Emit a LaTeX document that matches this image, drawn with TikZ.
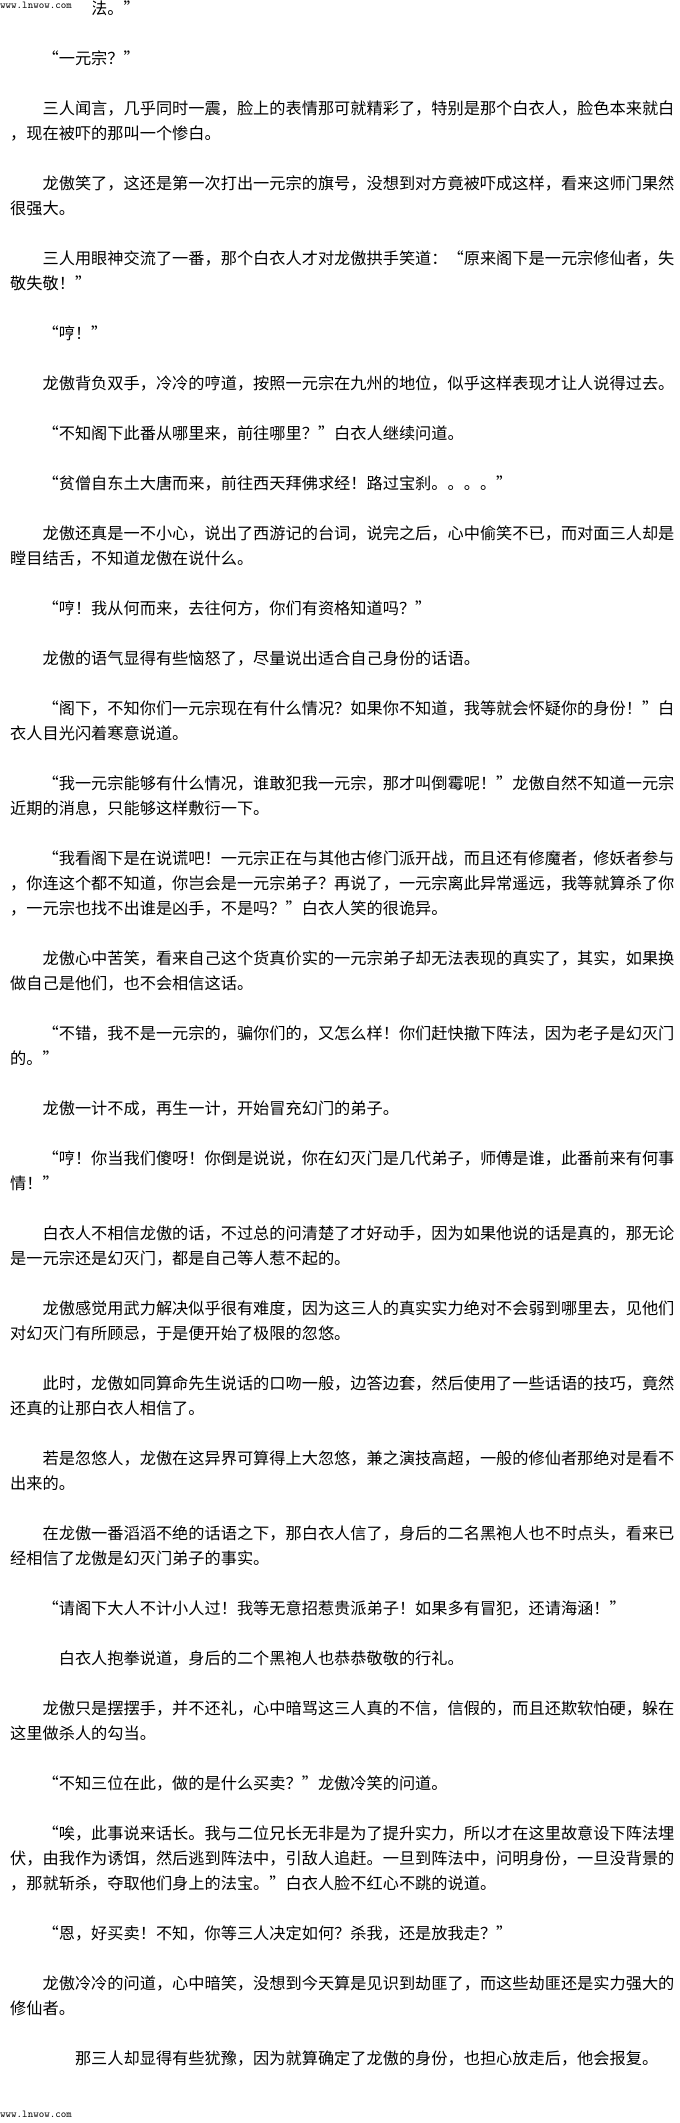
\documentclass[tikz,border=0pt]{standalone}
\usepackage{fontspec}
\newfontfamily\cjk{Noto Sans CJK SC}
\usepackage{tikz}
\newlength\cw
\setlength\cw{16.2pt}
\newcommand\qo{\makebox[\cw][r]{“}}
\newcommand\qc{\makebox[\cw][l]{”}}
\tikzset{
  txt/.style={anchor=base west, inner sep=0pt, yshift=-6pt, font=\cjk\fontsize{16.2}{25}\selectfont},
  wm/.style={anchor=west, inner sep=0pt, font=\ttfamily\fontsize{10.5}{12}\selectfont}
}

\begin{document}
\begin{tikzpicture}[x=1pt, y=-1pt]
        % Page
        \fill [white] (0, 0) rectangle (680, 2123);
        % Top line
        \node [txt] (p1a) at (91, 8) {法。\qc};
        \fill [white] (0, 0) rectangle (93, 11);
        \node [wm] (wtop) at (0, 5) {www.lnwow.com};
        % Paragraph 2
        \node [txt] (p2a) at (42.4, 58) {\qo 一元宗？\qc};
        % Paragraph 3
        \node [txt] (p3a) at (42.4, 108) {三人闻言，几乎同时一震，脸上的表情那可就精彩了，特别是那个白衣人，脸色本来就白};
        \node [txt] (p3b) at (10, 133) {，现在被吓的那叫一个惨白。};
        % Paragraph 4
        \node [txt] (p4a) at (42.4, 183) {龙傲笑了，这还是第一次打出一元宗的旗号，没想到对方竟被吓成这样，看来这师门果然};
        \node [txt] (p4b) at (10, 208) {很强大。};
        % Paragraph 5
        \node [txt] (p5a) at (42.4, 258) {三人用眼神交流了一番，那个白衣人才对龙傲拱手笑道：\qo 原来阁下是一元宗修仙者，失};
        \node [txt] (p5b) at (10, 283) {敬失敬！\qc};
        % Paragraph 6
        \node [txt] (p6a) at (42.4, 333) {\qo 哼！\qc};
        % Paragraph 7
        \node [txt] (p7a) at (42.4, 383) {龙傲背负双手，冷冷的哼道，按照一元宗在九州的地位，似乎这样表现才让人说得过去。};
        % Paragraph 8
        \node [txt] (p8a) at (42.4, 433) {\qo 不知阁下此番从哪里来，前往哪里？\qc 白衣人继续问道。};
        % Paragraph 9
        \node [txt] (p9a) at (42.4, 483) {\qo 贫僧自东土大唐而来，前往西天拜佛求经！路过宝刹。。。。\qc};
        % Paragraph 10
        \node [txt] (p10a) at (42.4, 533) {龙傲还真是一不小心，说出了西游记的台词，说完之后，心中偷笑不已，而对面三人却是};
        \node [txt] (p10b) at (10, 558) {瞠目结舌，不知道龙傲在说什么。};
        % Paragraph 11
        \node [txt] (p11a) at (42.4, 608) {\qo 哼！我从何而来，去往何方，你们有资格知道吗？\qc};
        % Paragraph 12
        \node [txt] (p12a) at (42.4, 658) {龙傲的语气显得有些恼怒了，尽量说出适合自己身份的话语。};
        % Paragraph 13
        \node [txt] (p13a) at (42.4, 708) {\qo 阁下，不知你们一元宗现在有什么情况？如果你不知道，我等就会怀疑你的身份！\qc 白};
        \node [txt] (p13b) at (10, 733) {衣人目光闪着寒意说道。};
        % Paragraph 14
        \node [txt] (p14a) at (42.4, 783) {\qo 我一元宗能够有什么情况，谁敢犯我一元宗，那才叫倒霉呢！\qc 龙傲自然不知道一元宗};
        \node [txt] (p14b) at (10, 808) {近期的消息，只能够这样敷衍一下。};
        % Paragraph 15
        \node [txt] (p15a) at (42.4, 858) {\qo 我看阁下是在说谎吧！一元宗正在与其他古修门派开战，而且还有修魔者，修妖者参与};
        \node [txt] (p15b) at (10, 883) {，你连这个都不知道，你岂会是一元宗弟子？再说了，一元宗离此异常遥远，我等就算杀了你};
        \node [txt] (p15c) at (10, 908) {，一元宗也找不出谁是凶手，不是吗？\qc 白衣人笑的很诡异。};
        % Paragraph 16
        \node [txt] (p16a) at (42.4, 958) {龙傲心中苦笑，看来自己这个货真价实的一元宗弟子却无法表现的真实了，其实，如果换};
        \node [txt] (p16b) at (10, 983) {做自己是他们，也不会相信这话。};
        % Paragraph 17
        \node [txt] (p17a) at (42.4, 1033) {\qo 不错，我不是一元宗的，骗你们的，又怎么样！你们赶快撤下阵法，因为老子是幻灭门};
        \node [txt] (p17b) at (10, 1058) {的。\qc};
        % Paragraph 18
        \node [txt] (p18a) at (42.4, 1108) {龙傲一计不成，再生一计，开始冒充幻门的弟子。};
        % Paragraph 19
        \node [txt] (p19a) at (42.4, 1158) {\qo 哼！你当我们傻呀！你倒是说说，你在幻灭门是几代弟子，师傅是谁，此番前来有何事};
        \node [txt] (p19b) at (10, 1183) {情！\qc};
        % Paragraph 20
        \node [txt] (p20a) at (42.4, 1233) {白衣人不相信龙傲的话，不过总的问清楚了才好动手，因为如果他说的话是真的，那无论};
        \node [txt] (p20b) at (10, 1258) {是一元宗还是幻灭门，都是自己等人惹不起的。};
        % Paragraph 21
        \node [txt] (p21a) at (42.4, 1308) {龙傲感觉用武力解决似乎很有难度，因为这三人的真实实力绝对不会弱到哪里去，见他们};
        \node [txt] (p21b) at (10, 1333) {对幻灭门有所顾忌，于是便开始了极限的忽悠。};
        % Paragraph 22
        \node [txt] (p22a) at (42.4, 1383) {此时，龙傲如同算命先生说话的口吻一般，边答边套，然后使用了一些话语的技巧，竟然};
        \node [txt] (p22b) at (10, 1408) {还真的让那白衣人相信了。};
        % Paragraph 23
        \node [txt] (p23a) at (42.4, 1458) {若是忽悠人，龙傲在这异界可算得上大忽悠，兼之演技高超，一般的修仙者那绝对是看不};
        \node [txt] (p23b) at (10, 1483) {出来的。};
        % Paragraph 24
        \node [txt] (p24a) at (42.4, 1533) {在龙傲一番滔滔不绝的话语之下，那白衣人信了，身后的二名黑袍人也不时点头，看来已};
        \node [txt] (p24b) at (10, 1558) {经相信了龙傲是幻灭门弟子的事实。};
        % Paragraph 25
        \node [txt] (p25a) at (42.4, 1608) {\qo 请阁下大人不计小人过！我等无意招惹贵派弟子！如果多有冒犯，还请海涵！\qc};
        % Paragraph 26
        \node [txt] (p26a) at (58.6, 1658) {白衣人抱拳说道，身后的二个黑袍人也恭恭敬敬的行礼。};
        % Paragraph 27
        \node [txt] (p27a) at (42.4, 1708) {龙傲只是摆摆手，并不还礼，心中暗骂这三人真的不信，信假的，而且还欺软怕硬，躲在};
        \node [txt] (p27b) at (10, 1733) {这里做杀人的勾当。};
        % Paragraph 28
        \node [txt] (p28a) at (42.4, 1783) {\qo 不知三位在此，做的是什么买卖？\qc 龙傲冷笑的问道。};
        % Paragraph 29
        \node [txt] (p29a) at (42.4, 1833) {\qo 唉，此事说来话长。我与二位兄长无非是为了提升实力，所以才在这里故意设下阵法埋};
        \node [txt] (p29b) at (10, 1858) {伏，由我作为诱饵，然后逃到阵法中，引敌人追赶。一旦到阵法中，问明身份，一旦没背景的};
        \node [txt] (p29c) at (10, 1883) {，那就斩杀，夺取他们身上的法宝。\qc 白衣人脸不红心不跳的说道。};
        % Paragraph 30
        \node [txt] (p30a) at (42.4, 1933) {\qo 恩，好买卖！不知，你等三人决定如何？杀我，还是放我走？\qc};
        % Paragraph 31
        \node [txt] (p31a) at (42.4, 1983) {龙傲冷冷的问道，心中暗笑，没想到今天算是见识到劫匪了，而这些劫匪还是实力强大的};
        \node [txt] (p31b) at (10, 2008) {修仙者。};
        % Paragraph 32
        \node [txt] (p32a) at (74.8, 2058) {那三人却显得有些犹豫，因为就算确定了龙傲的身份，也担心放走后，他会报复。};
        % Bottom mark
        \node [wm] (wbot) at (0, 2114) {www.lnwow.com};
\end{tikzpicture}
\end{document}
